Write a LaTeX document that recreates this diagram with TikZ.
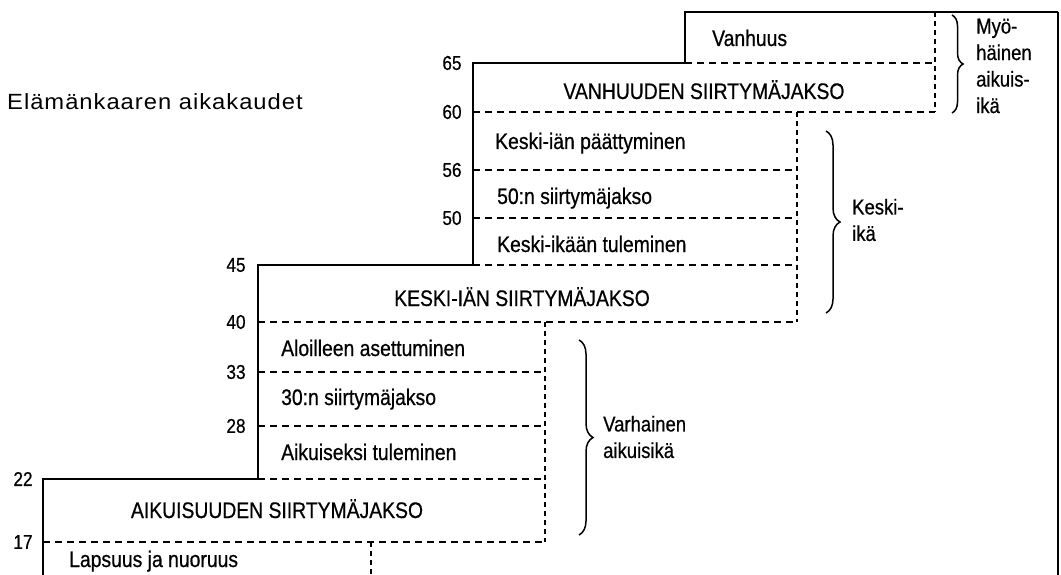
\documentclass[tikz,border=0pt]{standalone}
\usepackage{fontspec}
\setmainfont{Liberation Sans}
\newfontfamily\condfont[FakeStretch=0.86,FakeBold=0.6]{Liberation Sans}
\newfontfamily\titlefont[FakeStretch=1.08,LetterSpace=4.5]{Liberation Sans}
\usetikzlibrary{decorations.pathreplacing}
\tikzset{
  outline/.style={line width=2.8pt, line join=miter},
  rightedge/.style={line width=1.6pt},
  hsep/.style={line width=1.6pt, dash pattern=on 7pt off 5pt},
  vsep/.style={line width=1.6pt, dash pattern=on 5pt off 4pt},
  phase/.style={font=\condfont\fontsize{22.5}{24}\selectfont, inner sep=0pt},
  age/.style={font=\condfont\fontsize{20}{22}\selectfont, inner sep=0pt, anchor=center},
  era/.style={font=\condfont\fontsize{21.5}{26.5}\selectfont, inner sep=0pt, align=left, anchor=west},
  brc/.style={decorate, decoration={brace, amplitude=#1}, line width=1.5pt},
}
\begin{document}
\begin{tikzpicture}[x=1pt,y=-1pt]
\useasboundingbox (0,0) rectangle (1061,575);

% grid coordinates
\coordinate (b0) at (43,575);
\coordinate (c22a) at (43,479);
\coordinate (c22b) at (258,479);
\coordinate (c45a) at (258,265);
\coordinate (c45b) at (473,265);
\coordinate (c65a) at (473,63);
\coordinate (c65b) at (685,63);
\coordinate (ctopa) at (685,12);
\coordinate (ctopb) at (1058,12);
\coordinate (cbotr) at (1058,575);

% solid staircase outline
\draw[outline] (b0) -- (c22a) -- (c22b) -- (c45a) -- (c45b) -- (c65a) -- (c65b) -- (ctopa) -- (ctopb);
\draw[rightedge] (ctopb) -- (cbotr);

% dashed horizontal separators
\draw[hsep] (43,542) -- (545,542);
\draw[hsep] (c22b) -- (545,479);
\draw[hsep] (258,426) -- (545,426);
\draw[hsep] (258,372) -- (545,372);
\draw[hsep] (258,322) -- (797,322);
\draw[hsep] (c45b) -- (797,265);
\draw[hsep] (473,218) -- (797,218);
\draw[hsep] (473,170) -- (797,170);
\draw[hsep] (473,112) -- (935,112);
\draw[hsep] (c65b) -- (935,63);

% dashed vertical separators
\draw[vsep] (545,322) -- (545,542);
\draw[vsep] (371,542) -- (371,575);
\draw[vsep] (797,112) -- (797,322);
\draw[vsep] (935,12) -- (935,112);

% braces
\draw[brc=11pt] (952,15) -- (952,113);
\draw[brc=14pt] (826,131) -- (826,313);
\draw[brc=14pt] (579,340) -- (579,535);

% title
\node[font=\titlefont\fontsize{22}{24}\selectfont, inner sep=0pt, anchor=west] (title) at (7,102) {Elämänkaaren aikakaudet};

% age labels
\node[age] (a65) at (452,63) {65};
\node[age] (a60) at (452,112) {60};
\node[age] (a56) at (452,170) {56};
\node[age] (a50) at (452,218) {50};
\node[age] (a45) at (236,265) {45};
\node[age] (a40) at (236,322) {40};
\node[age] (a33) at (236,372) {33};
\node[age] (a28) at (236,426) {28};
\node[age] (a22) at (23,479) {22};
\node[age] (a17) at (23,542) {17};

% phase labels
\node[phase, anchor=base west] (vanhuus) at (712,46) {Vanhuus};
\node[phase, anchor=base] (vsiirt) at (704,99) {VANHUUDEN SIIRTYMÄJAKSO};
\node[phase, anchor=base west] (kpaat) at (495,149) {Keski-iän päättyminen};
\node[phase, anchor=base west] (k50) at (497,204) {50:n siirtymäjakso};
\node[phase, anchor=base west] (ktul) at (497,252) {Keski-ikään tuleminen};
\node[phase, anchor=base] (ksiirt) at (522,306) {KESKI-IÄN SIIRTYMÄJAKSO};
\node[phase, anchor=base west] (aloil) at (281,356) {Aloilleen asettuminen};
\node[phase, anchor=base west] (a30) at (281,405) {30:n siirtymäjakso};
\node[phase, anchor=base west] (aikt) at (281,460) {Aikuiseksi tuleminen};
\node[phase, anchor=base] (asiirt) at (277,518) {AIKUISUUDEN SIIRTYMÄJAKSO};
\node[phase, anchor=base west] (laps) at (69,567) {Lapsuus ja nuoruus};

% era labels
\node[era] (myoh) at (976,66) {Myö-\\häinen\\aikuis-\\ikä};
\node[era] (keski) at (852,220) {Keski-\\ikä};
\node[era] (varh) at (603,437) {Varhainen\\aikuisikä};
\end{tikzpicture}
\end{document}
